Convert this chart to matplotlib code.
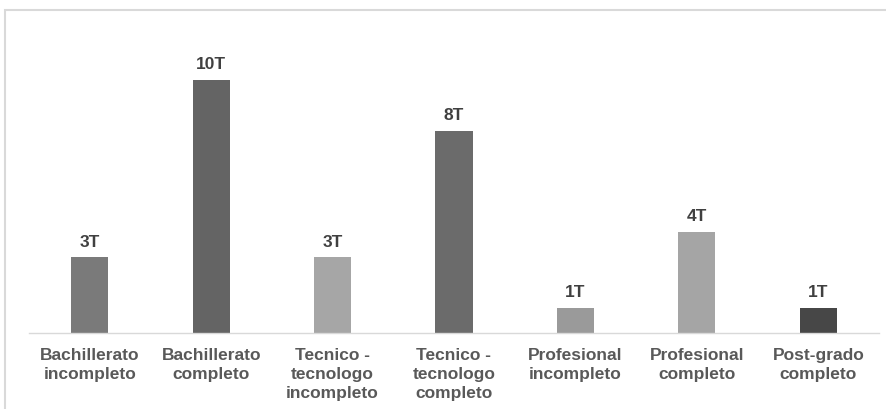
import matplotlib
matplotlib.use("Agg")
import matplotlib.pyplot as plt
from matplotlib.patches import Rectangle

# -----------------------------
# Data
# -----------------------------
categories = [
    "Bachillerato\nincompleto",
    "Bachillerato\ncompleto",
    "Tecnico -\ntecnologo\nincompleto",
    "Tecnico -\ntecnologo\ncompleto",
    "Profesional\nincompleto",
    "Profesional\ncompleto",
    "Post-grado\ncompleto",
]
values = [3, 10, 3, 8, 1, 4, 1]
value_labels = ["3T", "10T", "3T", "8T", "1T", "4T", "1T"]
bar_colors = ["#7a7a7a", "#646464", "#a6a6a6", "#6b6b6b", "#9a9a9a", "#a5a5a5", "#474747"]

plt.rcParams["font.family"] = ["Liberation Sans", "DejaVu Sans"]


def main():
    fig = plt.figure(figsize=(8.87, 4.09), dpi=100)
    fig.patch.set_facecolor("white")

    # chart frame (left and top edges show, the rest runs off the canvas)
    fig.patches.append(Rectangle((5.5 / 887, -0.5), 2.0, 1.5 - 9.5 / 409,
                                 transform=fig.transFigure, fill=False,
                                 edgecolor="#d9d9d9", linewidth=1.5))

    ax = fig.add_axes([29 / 887, 76 / 409, 850 / 887, 278.3 / 409])
    x = list(range(len(categories)))
    bars = ax.bar(x, values, width=0.305, color=bar_colors, zorder=2)

    for bar, lab in zip(bars, value_labels):
        ax.text(bar.get_x() + bar.get_width() / 2, bar.get_height() + 0.3, lab,
                ha="center", va="bottom", fontsize=12.5, fontweight="bold",
                color="#404040")

    ax.set_xlim(-0.5, 6.5)
    ax.set_ylim(0, 11)
    ax.set_xticks(x)
    ax.set_xticklabels(categories, fontsize=12.5, fontweight="bold",
                       color="#595959", linespacing=1.34)
    ax.tick_params(axis="x", length=0, pad=10.5)
    ax.set_yticks([])

    for side in ["top", "right", "left"]:
        ax.spines[side].set_visible(False)
    ax.spines["bottom"].set_color("#d9d9d9")
    ax.spines["bottom"].set_linewidth(1.0)

    fig.savefig("out.png", dpi=100)
    plt.close(fig)


if __name__ == "__main__":
    main()
